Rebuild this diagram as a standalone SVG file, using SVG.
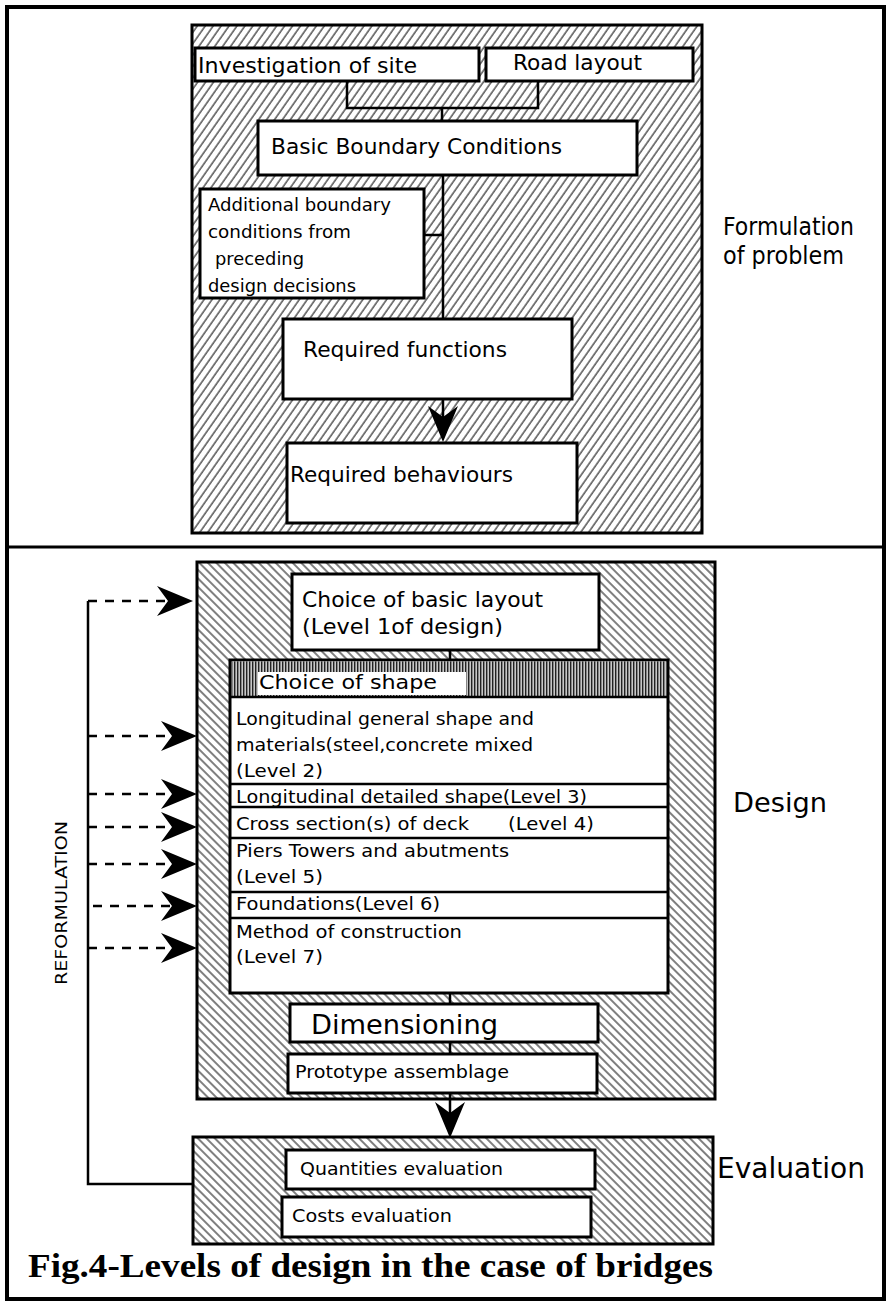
<svg xmlns="http://www.w3.org/2000/svg" width="887" height="1303" viewBox="0 0 887 1303">
<style>
.bg{fill:#fff}
.frame{fill:none;stroke:#000;stroke-width:4}
.panelA{fill:url(#hatchA);stroke:#000;stroke-width:3}
.panelB{fill:url(#hatchB);stroke:#000;stroke-width:3}
.box{fill:#fff;stroke:#000;stroke-width:3}
.sep{stroke:#000;stroke-width:2.5}
.conn{fill:none;stroke:#000;stroke-width:2.5}
.dash{fill:none;stroke:#000;stroke-width:2.5;stroke-dasharray:9 8}
.t{font-family:"DejaVu Sans","Noto Sans",sans-serif;fill:#000}
.cap{font-family:"Liberation Serif","Times New Roman",serif;font-weight:bold;fill:#000}
</style>
<defs>
<pattern id="hatchA" patternUnits="userSpaceOnUse" width="6.5" height="6.5" patternTransform="rotate(35)">
<line x1="1" y1="0" x2="1" y2="6.5" stroke="#000" stroke-width="1"/>
</pattern>
<pattern id="hatchB" patternUnits="userSpaceOnUse" width="6" height="6" patternTransform="rotate(-45)">
<line x1="1" y1="0" x2="1" y2="6" stroke="#000" stroke-width="1"/>
</pattern>
<pattern id="stripes" patternUnits="userSpaceOnUse" width="3" height="6">
<rect x="0" y="0" width="3" height="6" fill="#c8c8c8"/>
<rect x="0" y="0" width="1.4" height="6" fill="#222"/>
</pattern>
<marker id="ah" markerUnits="userSpaceOnUse" markerWidth="36" markerHeight="32" viewBox="0 -16 36 32" refX="11" refY="0" orient="auto">
<path d="M0,-15 L36,0 L0,15 L11,0 Z" fill="#000"/>
</marker>
</defs>
<rect class="bg" x="0" y="0" width="887" height="1303"/>
<rect class="frame" x="7" y="7" width="877" height="1292"/>
<line x1="7" y1="547" x2="884" y2="547" stroke="#000" stroke-width="3"/>

<g id="panel-formulation">
<rect class="panelA" x="192" y="25" width="510" height="508"/>
</g>
<g id="panel-design">
<rect class="panelB" x="197" y="562" width="518" height="537"/>
</g>
<g id="panel-evaluation">
<rect class="panelB" x="193" y="1137" width="520" height="107"/>
</g>

<g id="connectors">
<path class="conn" d="M347,81 V108 H538 V81 M442,108 V121"/>
<path class="conn" d="M443,175 V319 M424,235 H443"/>
<path class="conn" d="M443,399 V417" marker-end="url(#ah)"/>
<path class="conn" d="M450,650 V660 M450,993 V1004 M450,1042 V1054"/>
<path class="conn" d="M450,1093 V1113" marker-end="url(#ah)"/>
<path class="conn" d="M88,601 V1184 H193" stroke-width="2"/>
<path class="dash" d="M88,601 H168" marker-end="url(#ah)"/>
<path class="dash" d="M88,736 H172" marker-end="url(#ah)"/>
<path class="dash" d="M88,794 H172" marker-end="url(#ah)"/>
<path class="dash" d="M88,827 H172" marker-end="url(#ah)"/>
<path class="dash" d="M88,864 H172" marker-end="url(#ah)"/>
<path class="dash" d="M93,906 H172" marker-end="url(#ah)"/>
<path class="dash" d="M88,948 H172" marker-end="url(#ah)"/>
</g>

<g id="investigation">
<rect class="box" x="195" y="48" width="284" height="33"/>
<text class="t" x="198" y="73" font-size="22" textLength="219" lengthAdjust="spacingAndGlyphs">Investigation of site</text>
</g>
<g id="road-layout">
<rect class="box" x="486" y="48" width="207" height="33"/>
<text class="t" x="513" y="70" font-size="22" textLength="129" lengthAdjust="spacingAndGlyphs">Road layout</text>
</g>
<g id="basic-boundary">
<rect class="box" x="258" y="121" width="379" height="54"/>
<text class="t" x="271" y="154" font-size="22" textLength="291" lengthAdjust="spacingAndGlyphs">Basic Boundary Conditions</text>
</g>
<g id="additional-boundary">
<rect class="box" x="200" y="189" width="224" height="109"/>
<text class="t" x="208" y="211" font-size="18.5" textLength="183" lengthAdjust="spacingAndGlyphs">Additional boundary</text>
<text class="t" x="208" y="238" font-size="18.5" textLength="143" lengthAdjust="spacingAndGlyphs">conditions from</text>
<text class="t" x="215" y="265" font-size="18.5" textLength="89" lengthAdjust="spacingAndGlyphs">preceding</text>
<text class="t" x="208" y="292" font-size="18.5" textLength="148" lengthAdjust="spacingAndGlyphs">design decisions</text>
</g>
<g id="required-functions">
<rect class="box" x="283" y="319" width="289" height="80"/>
<text class="t" x="303" y="357" font-size="22" textLength="204" lengthAdjust="spacingAndGlyphs">Required functions</text>
</g>
<g id="required-behaviours">
<rect class="box" x="287" y="443" width="290" height="80"/>
<text class="t" x="290" y="482" font-size="22" textLength="223" lengthAdjust="spacingAndGlyphs">Required behaviours</text>
</g>
<g id="label-formulation">
<text class="t" x="723" y="235" font-size="24" textLength="131" lengthAdjust="spacingAndGlyphs">Formulation</text>
<text class="t" x="723" y="264" font-size="24" textLength="121" lengthAdjust="spacingAndGlyphs">of problem</text>
</g>

<g id="basic-layout">
<rect class="box" x="292" y="574" width="307" height="76"/>
<text class="t" x="302" y="607" font-size="22" textLength="241" lengthAdjust="spacingAndGlyphs">Choice of basic layout</text>
<text class="t" x="302" y="634" font-size="22" textLength="201" lengthAdjust="spacingAndGlyphs">(Level 1of design)</text>
</g>
<g id="choice-of-shape">
<rect class="box" x="230" y="660" width="438" height="333"/>
<rect x="231.5" y="661.5" width="435" height="35" fill="url(#stripes)"/>
<rect x="258" y="672" width="208" height="23" fill="#fff"/>
<line class="sep" x1="230" y1="697" x2="668" y2="697" stroke-width="3"/>
<text class="t" x="259" y="689" font-size="20" textLength="178" lengthAdjust="spacingAndGlyphs">Choice of shape</text>
<line class="sep" x1="230" y1="784" x2="668" y2="784"/>
<line class="sep" x1="230" y1="807" x2="668" y2="807"/>
<line class="sep" x1="230" y1="838" x2="668" y2="838"/>
<line class="sep" x1="230" y1="892" x2="668" y2="892"/>
<line class="sep" x1="230" y1="918" x2="668" y2="918"/>
<text class="t" x="236" y="725" font-size="18" textLength="298" lengthAdjust="spacingAndGlyphs">Longitudinal general shape and</text>
<text class="t" x="236" y="751" font-size="18" textLength="297" lengthAdjust="spacingAndGlyphs">materials(steel,concrete mixed</text>
<text class="t" x="236" y="777" font-size="18" textLength="87" lengthAdjust="spacingAndGlyphs">(Level 2)</text>
<text class="t" x="236" y="803" font-size="18" textLength="351" lengthAdjust="spacingAndGlyphs">Longitudinal detailed shape(Level 3)</text>
<text class="t" font-size="18"><tspan x="236" y="830" textLength="233" lengthAdjust="spacingAndGlyphs">Cross section(s) of deck</tspan><tspan x="508" y="830" textLength="86" lengthAdjust="spacingAndGlyphs">(Level 4)</tspan></text>
<text class="t" x="236" y="857" font-size="18" textLength="273" lengthAdjust="spacingAndGlyphs">Piers Towers and abutments</text>
<text class="t" x="236" y="883" font-size="18" textLength="87" lengthAdjust="spacingAndGlyphs">(Level 5)</text>
<text class="t" x="236" y="910" font-size="18" textLength="204" lengthAdjust="spacingAndGlyphs">Foundations(Level 6)</text>
<text class="t" x="236" y="938" font-size="18" textLength="226" lengthAdjust="spacingAndGlyphs">Method of construction</text>
<text class="t" x="236" y="963" font-size="18" textLength="87" lengthAdjust="spacingAndGlyphs">(Level 7)</text>
</g>
<g id="dimensioning">
<rect class="box" x="290" y="1004" width="308" height="38"/>
<text class="t" x="311" y="1034" font-size="26" textLength="187" lengthAdjust="spacingAndGlyphs">Dimensioning</text>
</g>
<g id="prototype">
<rect class="box" x="288" y="1054" width="309" height="39"/>
<text class="t" x="295" y="1078" font-size="17" textLength="214" lengthAdjust="spacingAndGlyphs">Prototype assemblage</text>
</g>
<g id="label-design">
<text class="t" x="733" y="812" font-size="27" textLength="94" lengthAdjust="spacingAndGlyphs">Design</text>
</g>
<g id="label-reformulation">
<text class="t" x="0" y="0" font-size="16" textLength="164" lengthAdjust="spacingAndGlyphs" transform="translate(67,985) rotate(-90)">REFORMULATION</text>
</g>

<g id="quantities">
<rect class="box" x="286" y="1150" width="309" height="39"/>
<text class="t" x="300" y="1175" font-size="17" textLength="203" lengthAdjust="spacingAndGlyphs">Quantities evaluation</text>
</g>
<g id="costs">
<rect class="box" x="282" y="1197" width="309" height="40"/>
<text class="t" x="292" y="1222" font-size="17" textLength="160" lengthAdjust="spacingAndGlyphs">Costs evaluation</text>
</g>
<g id="label-evaluation">
<text class="t" x="717" y="1178" font-size="28" textLength="148" lengthAdjust="spacingAndGlyphs">Evaluation</text>
</g>
<g id="caption">
<text class="cap" x="28" y="1277" font-size="33" textLength="685" lengthAdjust="spacingAndGlyphs">Fig.4-Levels of design in the case of bridges</text>
</g>
</svg>
